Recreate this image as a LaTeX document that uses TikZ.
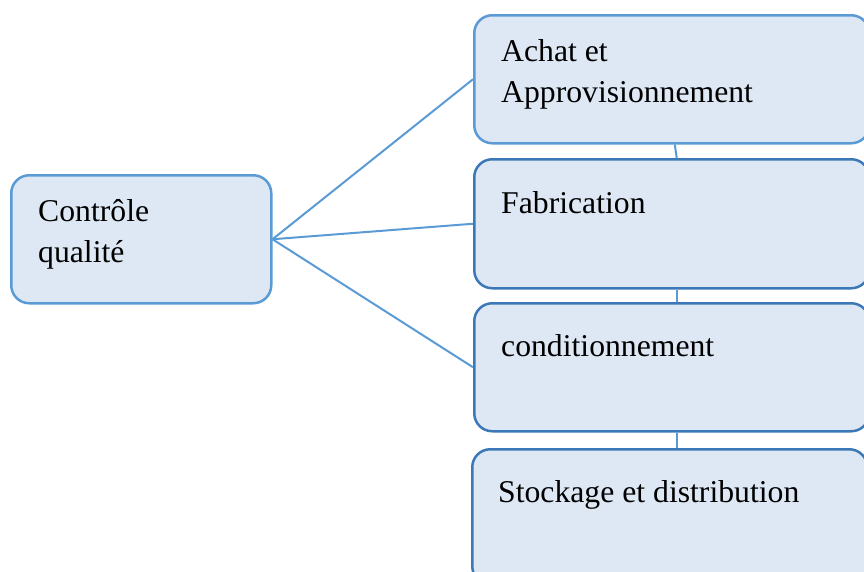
\documentclass[tikz,border=0pt]{standalone}
\usepackage{fontspec}
\setmainfont{Liberation Serif}
\definecolor{boxfill}{HTML}{DEE8F4}
\definecolor{lightedge}{HTML}{5B9BD5}
\definecolor{darkedge}{HTML}{3A78B8}
\begin{document}
\begin{tikzpicture}[x=1pt,y=-1pt,
  box/.style={draw=lightedge, fill=boxfill, line width=2.5pt, rounded corners=18pt,
              inner sep=0pt, anchor=north west, minimum width=395pt},
  darkbox/.style={box, draw=darkedge},
  lbl/.style={anchor=base west, inner sep=0pt, font=\fontsize{31.7}{40}\selectfont},
  link/.style={draw=lightedge, line width=2pt}]
\useasboundingbox (0,0) rectangle (864,571);

% links drawn first so the boxes sit on top
\coordinate (hub) at (270,237);

% left box
\node[box, minimum width=260pt, minimum height=128pt] (qc) at (10,174) {};
\node[lbl] (qc1) at (38,221) {Contrôle};
\node[lbl] (qc2) at (38,262) {qualité};

% right column
\node[box, minimum height=128pt] (ach) at (473,14) {};
\node[lbl] (ach1) at (501,61) {Achat et};
\node[lbl] (ach2) at (501,102) {Approvisionnement};

\node[darkbox, minimum height=129pt] (fab) at (473,158) {};
\node[lbl] (fab1) at (501,213) {Fabrication};

\node[darkbox, minimum height=128pt] (cond) at (473,302) {};
\node[lbl] (cond1) at (501,356) {conditionnement};

\node[darkbox, minimum height=135pt] (stock) at (471,448) {};
\node[lbl] (stock1) at (498,502) {Stockage et distribution};

% branches from the quality box
\draw[link] (qc.east) -- (ach.west);
\draw[link] (qc.east) -- (fab.west);
\draw[link] (qc.east) -- (cond.west);

% chain between the process steps
\draw[link] ([xshift=3pt]ach.south) -- ([xshift=5pt]fab.north);
\draw[link] ([xshift=5pt]fab.south) -- ([xshift=5pt]cond.north);
\draw[link] ([xshift=5pt]cond.south) -- ([xshift=7pt]stock.north);
\end{tikzpicture}
\end{document}
